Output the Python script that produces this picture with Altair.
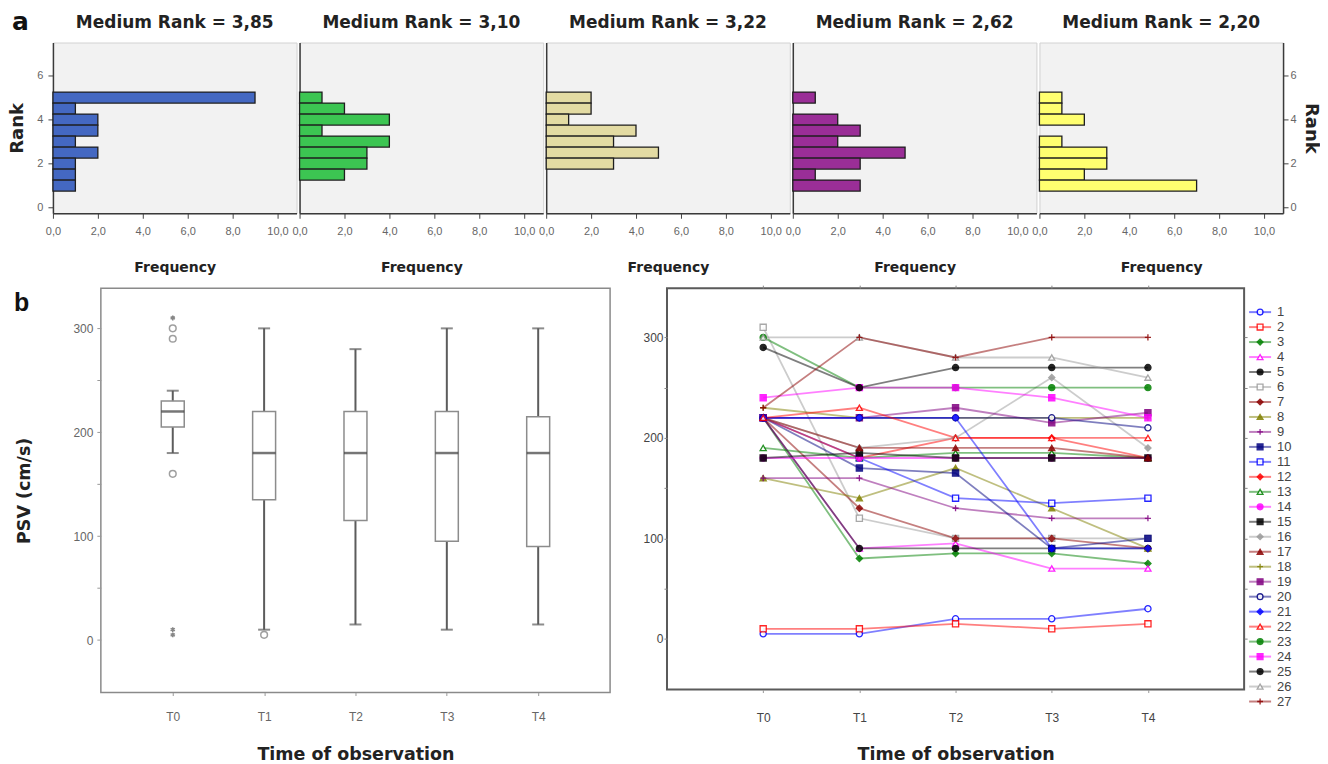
import altair as alt
import pandas as pd

# ---------------- panel a : rank histograms ----------------
rank_bins = [5.0, 4.5, 4.0, 3.5, 3.0, 2.5, 2.0, 1.5, 1.0]
freq_1 = [9, 1, 2, 2, 1, 2, 1, 1, 1]
freq_2 = [1, 2, 4, 1, 4, 3, 3, 2, 0]
freq_3 = [2, 2, 1, 4, 3, 5, 3, 0, 0]
freq_4 = [1, 0, 2, 3, 2, 5, 3, 1, 3]
freq_5 = [1, 1, 2, 0, 1, 3, 3, 2, 7]
medium_ranks = ["3,85", "3,10", "3,22", "2,62", "2,20"]
bar_colors = ["#4468c2", "#3cc552", "#e3dba3", "#9a2e97", "#ffff70"]
freq_ticks = [0, 2, 4, 6, 8, 10]
rank_ticks = [0, 2, 4, 6]

# ---------------- panel b : box plot ----------------
times = ["T0", "T1", "T2", "T3", "T4"]
box_low = [180, 10, 15, 10, 15]
box_q1 = [205, 135, 115, 95, 90]
box_med = [220, 180, 180, 180, 180]
box_q3 = [230, 220, 220, 220, 215]
box_high = [240, 300, 280, 300, 300]
outlier_time = ["T0", "T0", "T0", "T1"]
outlier_val = [300, 290, 160, 5]
extreme_time = ["T0", "T0", "T0"]
extreme_val = [310, 10, 5]
psv_ticks = [0, 50, 100, 150, 200, 250, 300]

# ---------------- panel b : individual PSV lines ----------------
s01 = [5, 5, 20, 20, 30]
s02 = [10, 10, 15, 10, 15]
s03 = [220, 80, 85, 85, 75]
s04 = [220, 90, 95, 70, 70]
s05 = [220, 90, 90, 90, 90]
s06 = [310, 120, 100, 100, 100]
s07 = [220, 130, 100, 100, 90]
s08 = [160, 140, 170, 130, 90]
s09 = [160, 160, 130, 120, 120]
s10 = [220, 170, 165, 90, 100]
s11 = [220, 180, 140, 135, 140]
s12 = [220, 180, 200, 200, 180]
s13 = [190, 180, 185, 185, 180]
s14 = [180, 180, 180, 180, 180]
s15 = [180, 185, 180, 180, 180]
s16 = [220, 190, 200, 260, 190]
s17 = [220, 190, 190, 190, 180]
s18 = [230, 220, 220, 220, 220]
s19 = [220, 220, 230, 215, 225]
s20 = [220, 220, 220, 220, 210]
s21 = [220, 220, 220, 90, 90]
s22 = [220, 230, 200, 200, 200]
s23 = [300, 250, 250, 250, 250]
s24 = [240, 250, 250, 240, 220]
s25 = [290, 250, 270, 270, 270]
s26 = [300, 300, 280, 280, 260]
s27 = [230, 300, 280, 300, 300]
series_values = [s01, s02, s03, s04, s05, s06, s07, s08, s09, s10, s11, s12, s13, s14,
                 s15, s16, s17, s18, s19, s20, s21, s22, s23, s24, s25, s26, s27]
series_ids = list(range(1, 28))
palette = ["#0000ff", "#ff0000", "#008000", "#ff00ff", "#000000",
           "#9a9a9a", "#8b0000", "#808000", "#800080", "#000080"]
PLUS = "M-1,0H1M0,-1V1"
series_shapes = ["circle", "square", "diamond", "triangle-up", "circle", "square", "diamond",
                 "triangle-up", PLUS, "square", "square", "diamond", "triangle-up", "circle",
                 "square", "diamond", "triangle-up", PLUS, "square", "circle", "diamond",
                 "triangle-up", "circle", "square", "circle", "triangle-up", PLUS]
series_filled = [0, 0, 1, 0, 1, 0, 1, 1, 1, 1, 0, 1, 0, 1, 1, 1, 1, 1, 1, 0, 1, 0, 1, 1, 1, 0, 1]

TFONT = "DejaVu Sans"
LFONT = "Liberation Sans"
NFONT = "Liberation Sans Narrow, Liberation Sans"


# ---------------- build panel a ----------------
def hist_panel(k):
    freqs = [freq_1, freq_2, freq_3, freq_4, freq_5][k]
    df = pd.DataFrame({"rank": rank_bins, "freq": freqs})
    df = df[df["freq"] > 0]
    xaxis = alt.Axis(values=freq_ticks, title="Frequency", grid=False,
                     labelExpr="replace(format(datum.value, '.1f'), '.', ',')",
                     labelFont=NFONT, labelFontSize=11, labelColor="#666",
                     labelFlush=False, labelOverlap=False, labelBound=False,
                     labelPadding=7, tickSize=5, tickColor="#444", tickWidth=1,
                     domainColor="#3a3a3a", domainWidth=1.5,
                     titleFont=TFONT, titleFontSize=14, titleFontWeight="bold",
                     titleColor="#222", titlePadding=24)
    if k in (0, 4):
        yaxis = alt.Axis(values=rank_ticks, format="d", title="Rank", grid=False,
                         orient="left" if k == 0 else "right",
                         labelFont=NFONT, labelFontSize=11, labelColor="#666",
                         labelPadding=5 if k == 0 else 2, tickSize=5, tickColor="#444",
                         domainColor="#3a3a3a", domainWidth=1.5,
                         titleFont=TFONT, titleFontSize=18, titleFontWeight="bold",
                         titleColor="#222", titlePadding=10 if k == 0 else 5)
    else:
        yaxis = alt.Axis(labels=False, ticks=False, title=None, grid=False,
                         domainColor="#3a3a3a", domainWidth=1.5)
    bars = alt.Chart(df).transform_calculate(
        lo="datum.rank - 0.25", hi="datum.rank + 0.25", base="0"
    ).mark_bar(fill=bar_colors[k], stroke="#1e1e1e", strokeWidth=1.3).encode(
        x=alt.X("base:Q", scale=alt.Scale(domain=[0, 10.85], nice=False), axis=xaxis),
        x2="freq:Q",
        y=alt.Y("lo:Q", scale=alt.Scale(domain=[-0.26, 7.5], nice=False), axis=yaxis),
        y2="hi:Q",
    )
    head = alt.Chart(pd.DataFrame({"lab": [f"Medium Rank = {medium_ranks[k]}"]})).mark_text(
        font=TFONT, fontSize=17, fontWeight="bold", align="center",
        baseline="alphabetic", color="#222"
    ).encode(text="lab:N", x=alt.value(122), y=alt.value(-15))
    layers = [bars, head]
    if k == 0:
        layers.append(
            alt.Chart(pd.DataFrame({"lab": ["a"]})).mark_text(
                font=TFONT, fontSize=25, fontWeight="bold", align="left",
                baseline="alphabetic", color="#111"
            ).encode(text="lab:N", x=alt.value(-41), y=alt.value(-13))
        )
    return alt.layer(*layers).properties(
        width=244, height=171,
        view=alt.ViewBackground(fill="#f2f2f2", stroke="#d2d2d2", strokeWidth=1),
    )


top_row = alt.hconcat(*[hist_panel(k) for k in range(5)], spacing=-7)

# ---------------- build box plot ----------------
box_df = pd.DataFrame({"time": times, "low": box_low, "q1": box_q1, "med": box_med,
                       "q3": box_q3, "high": box_high})
out_df = pd.DataFrame({"time": outlier_time, "val": outlier_val})
ext_df = pd.DataFrame({"time": extreme_time, "val": extreme_val})

xb_scale = alt.Scale(type="point", domain=times, padding=0.787)
yb_scale = alt.Scale(domain=[-50.5, 338.7], nice=False, zero=False)
xb_axis = alt.Axis(title="Time of observation", labelAngle=0, labelFont=LFONT,
                   labelFontSize=12, labelColor="#666", labelPadding=16,
                   tickSize=3, tickColor="#999", domain=False,
                   titleFont=TFONT, titleFontSize=17.5, titleFontWeight="bold",
                   titleColor="#222", titlePadding=23)
yb_axis = alt.Axis(values=psv_ticks, title="PSV (cm/s)", grid=False,
                   labelExpr="datum.value % 100 == 0 ? datum.label : ''",
                   labelFont=LFONT, labelFontSize=12, labelColor="#666",
                   labelPadding=4, tickSize=4, tickColor="#999", domain=False,
                   titleFont=TFONT, titleFontSize=17.5, titleFontWeight="bold",
                   titleColor="#222", titlePadding=39)

whiskers = alt.Chart(box_df).mark_rule(color="#5c5c5c", strokeWidth=2).encode(
    x=alt.X("time:N", scale=xb_scale, axis=xb_axis),
    y=alt.Y("low:Q", scale=yb_scale, axis=yb_axis),
    y2="high:Q",
)
boxes = alt.Chart(box_df).mark_bar(size=23, fill="white", stroke="#8c8c8c",
                                   strokeWidth=1.5).encode(
    x=alt.X("time:N", scale=xb_scale), y=alt.Y("q1:Q", scale=yb_scale), y2="q3:Q")
cap_lo = alt.Chart(box_df).mark_tick(size=12, thickness=2, color="#5c5c5c").encode(
    x=alt.X("time:N", scale=xb_scale), y=alt.Y("low:Q", scale=yb_scale))
cap_hi = alt.Chart(box_df).mark_tick(size=12, thickness=2, color="#5c5c5c").encode(
    x=alt.X("time:N", scale=xb_scale), y=alt.Y("high:Q", scale=yb_scale))
medians = alt.Chart(box_df).mark_tick(size=23, thickness=2.5, color="#3c3c3c").encode(
    x=alt.X("time:N", scale=xb_scale), y=alt.Y("med:Q", scale=yb_scale))
outliers = alt.Chart(out_df).mark_point(shape="circle", size=45, color="#777",
                                        strokeWidth=1.5).encode(
    x=alt.X("time:N", scale=xb_scale), y=alt.Y("val:Q", scale=yb_scale))
ASTER = "M0,-1L0,1M-0.87,-0.5L0.87,0.5M-0.87,0.5L0.87,-0.5"
extremes = alt.Chart(ext_df).mark_point(shape=ASTER, size=24, color="#555",
                                        strokeWidth=1.5).encode(
    x=alt.X("time:N", scale=xb_scale), y=alt.Y("val:Q", scale=yb_scale))
label_b = alt.Chart(pd.DataFrame({"lab": ["b"]})).mark_text(
    font=LFONT, fontSize=25, fontWeight="bold", align="left", baseline="alphabetic",
    color="#111"
).encode(text="lab:N", x=alt.value(-87), y=alt.value(23))

box_chart = alt.layer(whiskers, boxes, cap_lo, cap_hi, medians, outliers, extremes,
                      label_b).properties(
    width=510, height=405,
    view=alt.ViewBackground(fill="white", stroke="#8a8a8a", strokeWidth=1.5),
)

# invisible zero-size anchor that lines the bottom row up under the top row
anchor = alt.Chart(pd.DataFrame({"v": [0]})).mark_point(size=0, opacity=0).encode(
    x=alt.value(0), y=alt.value(0)
).properties(width=1, height=1,
             view=alt.ViewBackground(fill="transparent", stroke="transparent"))

# ---------------- build line chart ----------------
rows = []
for sid, vals, shp, fl in zip(series_ids, series_values, series_shapes, series_filled):
    col = palette[(sid - 1) % 10]
    for t, v in zip(times, vals):
        rows.append({"series": sid, "time": t, "psv": v, "col": col, "shape": shp,
                     "fillc": col if fl else "white"})
line_df = pd.DataFrame(rows)
leg_df = pd.DataFrame({
    "idx": series_ids,
    "lab": [str(i) for i in series_ids],
    "col": [palette[(i - 1) % 10] for i in series_ids],
    "shape": series_shapes,
    "fillc": [palette[(i - 1) % 10] if f else "white" for i, f in zip(series_ids, series_filled)],
})

xl_scale = alt.Scale(type="point", domain=times, padding=1)
yl_scale = alt.Scale(domain=[-50.4, 349], nice=False, zero=False)
leg_scale = alt.Scale(domain=[-0.6, 26.2], nice=False, zero=False, reverse=True)

xl_axis = alt.Axis(title="Time of observation", labelAngle=0, labelFont=LFONT,
                   labelFontSize=12, labelColor="#444", labelPadding=20,
                   tickSize=3, tickColor="#999", domain=False,
                   titleFont=TFONT, titleFontSize=17.5, titleFontWeight="bold",
                   titleColor="#222", titlePadding=22)
yl_axis = alt.Axis(values=psv_ticks, title=None, grid=False,
                   labelExpr="datum.value % 100 == 0 ? datum.label : ''",
                   labelFont=LFONT, labelFontSize=12, labelColor="#444",
                   labelPadding=1, tickSize=3, tickColor="#888", domain=False)

lines = alt.Chart(line_df).mark_line(strokeWidth=1.8, opacity=0.5).encode(
    x=alt.X("time:N", scale=xl_scale, axis=xl_axis),
    y=alt.Y("psv:Q", scale=yl_scale, axis=yl_axis),
    color=alt.Color("col:N", scale=None),
    detail="series:N",
)
points = alt.Chart(line_df).mark_point(size=38, strokeWidth=1.3, opacity=0.85).encode(
    x=alt.X("time:N", scale=xl_scale,
            axis=alt.Axis(orient="top", labels=False, title=None, tickSize=3,
                          tickColor="#888", domain=False)),
    y=alt.Y("psv:Q", scale=yl_scale,
            axis=alt.Axis(orient="right", values=psv_ticks, labels=False, title=None,
                          tickSize=3, tickColor="#888", domain=False, grid=False)),
    shape=alt.Shape("shape:N", scale=None),
    stroke=alt.Stroke("col:N", scale=None),
    fill=alt.Fill("fillc:N", scale=None),
)
leg_rules = alt.Chart(leg_df).mark_rule(strokeWidth=2, opacity=0.5).encode(
    x=alt.value(583), x2=alt.value(605),
    y=alt.Y("idx:Q", scale=leg_scale, axis=None),
    color=alt.Color("col:N", scale=None),
)
leg_pts = alt.Chart(leg_df).mark_point(size=34, strokeWidth=1.3, opacity=0.85).encode(
    x=alt.value(594),
    y=alt.Y("idx:Q", scale=leg_scale, axis=None),
    shape=alt.Shape("shape:N", scale=None),
    stroke=alt.Stroke("col:N", scale=None),
    fill=alt.Fill("fillc:N", scale=None),
)
leg_text = alt.Chart(leg_df).mark_text(font=LFONT, fontSize=13, color="#444",
                                       align="left", baseline="middle").encode(
    x=alt.value(611),
    y=alt.Y("idx:Q", scale=leg_scale, axis=None),
    text="lab:N",
)

line_chart = alt.layer(lines, points, leg_rules, leg_pts, leg_text).resolve_scale(
    x="independent", y="independent"
).properties(
    width=578, height=402,
    view=alt.ViewBackground(fill="white", stroke="#5a5a5a", strokeWidth=2),
)

left_block = alt.hconcat(anchor, box_chart, spacing=-42)
bottom_row = alt.hconcat(left_block, line_chart, spacing=30)

chart = alt.vconcat(top_row, bottom_row, spacing=8).properties(
    padding=0, background="white"
)

chart.save("out.html", embed_options={"renderer": "svg", "actions": False})
